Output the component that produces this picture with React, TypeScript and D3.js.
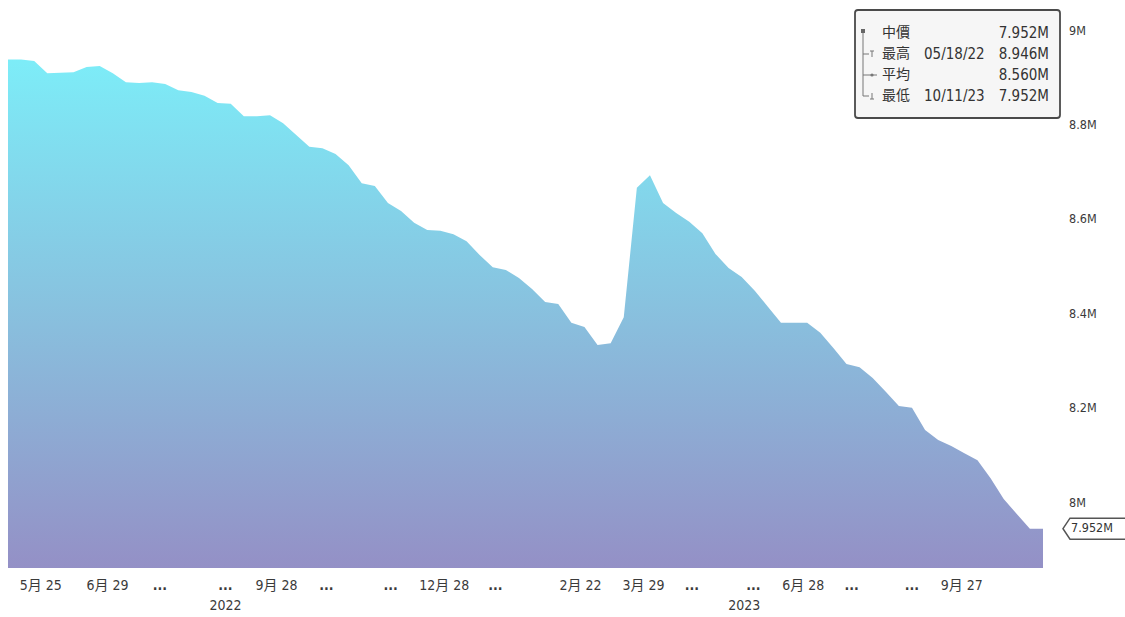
import React from "react";
import * as d3 from "d3";

// Weekly closing values (millions), oldest first
const values: number[] = [
  8.946, 8.946, 8.943, 8.917, 8.918, 8.919, 8.930, 8.932, 8.917, 8.898,
  8.896, 8.898, 8.894, 8.881, 8.877, 8.869, 8.854, 8.852, 8.826, 8.826,
  8.828, 8.811, 8.786, 8.761, 8.758, 8.746, 8.722, 8.684, 8.678, 8.642,
  8.625, 8.600, 8.585, 8.583, 8.576, 8.561, 8.532, 8.506, 8.500, 8.483,
  8.460, 8.432, 8.428, 8.388, 8.379, 8.341, 8.345, 8.400, 8.674, 8.701,
  8.642, 8.621, 8.602, 8.578, 8.534, 8.504, 8.485, 8.456, 8.422, 8.388,
  8.388, 8.388, 8.367, 8.335, 8.301, 8.294, 8.271, 8.242, 8.212, 8.208,
  8.161, 8.140, 8.127, 8.112, 8.097, 8.059, 8.015, 7.983, 7.952, 7.952,
];

// Axis labels, anchored at observation positions
const tickLabels: string[] = [
  "5月 25", "6月 29", "...", "...", "9月 28", "...", "...", "12月 28", "...",
  "2月 22", "3月 29", "...", "...", "6月 28", "...", "...", "9月 27",
];
const tickAt: number[] = [
  2.5, 7.6, 11.6, 16.6, 20.5, 24.3, 29.2, 33.3, 37.2,
  43.7, 48.5, 52.2, 56.9, 60.7, 64.4, 69.0, 72.8,
];
const yearLabels: string[] = ["2022", "2023"];
const yearAt: number[] = [16.6, 56.2];

const yTicks: number[] = [8, 8.2, 8.4, 8.6, 8.8, 9];

// Summary box rows
const summaryNames: string[] = ["中價", "最高", "平均", "最低"];
const summaryDates: string[] = ["", "05/18/22", "", "10/11/23"];
const summaryValues: number[] = [7.952, 8.946, 8.56, 7.952];

const W = 1125;
const H = 617;
const numFont = "'DejaVu Sans Condensed', 'Noto Sans CJK TC', sans-serif";
const cjkFont = "'Noto Sans CJK TC', sans-serif";

export default function App() {
  const x = d3.scaleLinear().domain([0, values.length - 1]).range([8, 1043]);
  const y = d3.scaleLinear().domain([8, 9]).range([506, 34]);
  const bottom = 568;

  const area = d3
    .area<number>()
    .x((_, i) => x(i))
    .y0(bottom)
    .y1((d) => y(d));

  const fmtAxis = (v: number) => (Number.isInteger(v) ? `${v}M` : `${v.toFixed(1)}M`);
  const fmtVal = (v: number) => `${v.toFixed(3)}M`;

  const last = values[values.length - 1];
  const ly = y(last);

  const rowY = [33, 54, 75, 96];
  const treeX = 863;

  return (
    <svg
      width={W}
      height={H}
      style={{ position: "absolute", left: 0, top: 0, background: "#fff" }}
    >
      <defs>
        <linearGradient id="fillGrad" gradientUnits="userSpaceOnUse" x1={0} y1={40} x2={0} y2={bottom}>
          <stop offset="0" stopColor="#7cf0fa" />
          <stop offset="0.5" stopColor="#88c2df" />
          <stop offset="1" stopColor="#9490c6" />
        </linearGradient>
      </defs>

      <path d={area(values) ?? ""} fill="url(#fillGrad)" />

      {/* right value axis */}
      {yTicks.map((t) => (
        <text
          key={t}
          x={1069}
          y={y(t) - 3}
          dominantBaseline="middle"
          fontFamily={numFont}
          fontSize={12.5}
          fill="#3a3a3a"
        >
          {fmtAxis(t)}
        </text>
      ))}

      {/* last value tag */}
      <path
        d={`M1063,${ly} L1070,${ly - 10.5} L1126,${ly - 10.5} L1126,${ly + 10.5} L1070,${ly + 10.5} Z`}
        fill="#fff"
        stroke="#555"
        strokeWidth={1.5}
      />
      <text x={1071} y={ly} dominantBaseline="middle" fontFamily={numFont} fontSize={12.5} fill="#333">
        {fmtVal(last)}
      </text>

      {/* time axis */}
      {tickLabels.map((t, i) => (
        <text
          key={i}
          x={x(tickAt[i])}
          y={586}
          textAnchor="middle"
          dominantBaseline="middle"
          fontFamily={numFont}
          fontSize={14}
          fill="#3a3a3a"
          fontWeight={t === "..." ? "bold" : "normal"}
        >
          {t}
        </text>
      ))}
      {yearLabels.map((t, i) => (
        <text
          key={t}
          x={x(yearAt[i])}
          y={606}
          textAnchor="middle"
          dominantBaseline="middle"
          fontFamily={numFont}
          fontSize={14}
          fill="#3a3a3a"
        >
          {t}
        </text>
      ))}

      {/* summary box */}
      <rect x={855} y={10} width={205} height={108} rx={3} fill="#f6f6f6" stroke="#4a4a4a" strokeWidth={1.8} />
      <rect x={treeX - 2} y={rowY[0] - 4} width={4} height={4} fill="#666" />
      <line x1={treeX} y1={rowY[0]} x2={treeX} y2={rowY[3]} stroke="#777" strokeWidth={1} />
      <line x1={treeX} y1={rowY[1]} x2={treeX + 6} y2={rowY[1]} stroke="#777" strokeWidth={1} />
      <line x1={treeX + 7} y1={rowY[1] - 3} x2={treeX + 11} y2={rowY[1] - 3} stroke="#777" strokeWidth={1} />
      <line x1={treeX + 9} y1={rowY[1] - 3} x2={treeX + 9} y2={rowY[1] + 3} stroke="#777" strokeWidth={1} />
      <line x1={treeX} y1={rowY[2]} x2={treeX + 14} y2={rowY[2]} stroke="#777" strokeWidth={1} />
      <circle cx={treeX + 9} cy={rowY[2]} r={1.6} fill="#777" />
      <line x1={treeX} y1={rowY[3]} x2={treeX + 6} y2={rowY[3]} stroke="#777" strokeWidth={1} />
      <line x1={treeX + 9} y1={rowY[3] - 3} x2={treeX + 9} y2={rowY[3] + 3} stroke="#777" strokeWidth={1} />
      <line x1={treeX + 7} y1={rowY[3] + 3} x2={treeX + 11} y2={rowY[3] + 3} stroke="#777" strokeWidth={1} />
      {summaryNames.map((n, i) => (
        <g key={n}>
          <text x={882} y={rowY[i]} dominantBaseline="middle" fontFamily={cjkFont} fontSize={14} fill="#333">
            {n}
          </text>
          <text x={924} y={rowY[i]} dominantBaseline="middle" fontFamily={numFont} fontSize={15} fill="#333">
            {summaryDates[i]}
          </text>
          <text
            x={1049}
            y={rowY[i]}
            textAnchor="end"
            dominantBaseline="middle"
            fontFamily={numFont}
            fontSize={15}
            fill="#333"
          >
            {fmtVal(summaryValues[i])}
          </text>
        </g>
      ))}
    </svg>
  );
}
